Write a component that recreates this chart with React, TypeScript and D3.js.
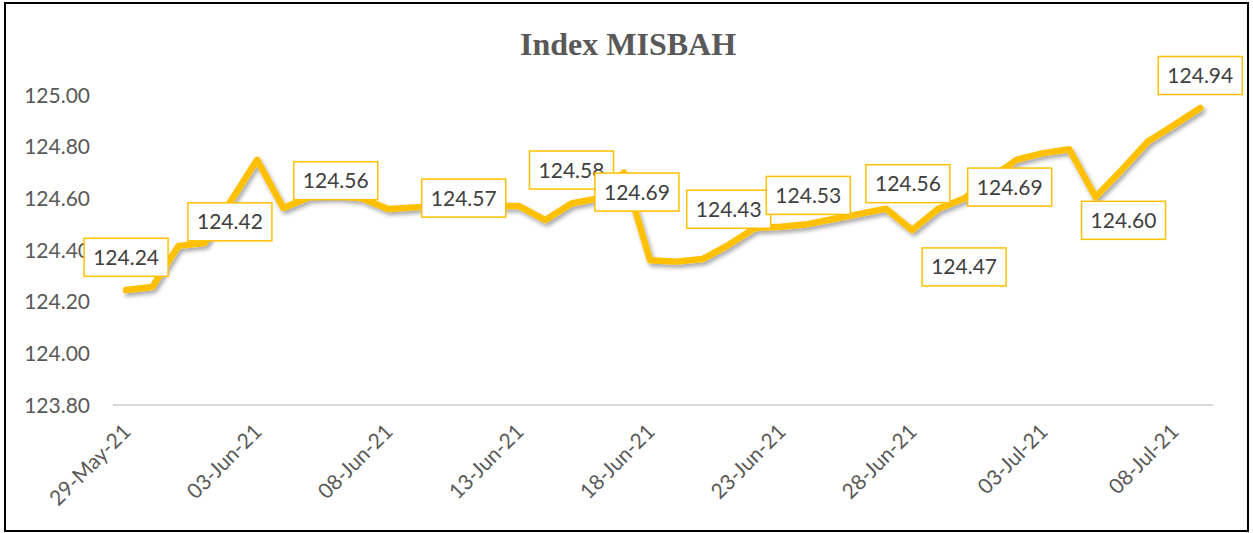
import React from "react";
import * as d3 from "d3";

// ---------- DATA ----------
const dates = [
  "2021-05-29", "2021-05-30", "2021-05-31", "2021-06-01", "2021-06-02", "2021-06-03",
  "2021-06-04", "2021-06-05", "2021-06-06", "2021-06-07", "2021-06-08", "2021-06-09",
  "2021-06-10", "2021-06-11", "2021-06-12", "2021-06-13", "2021-06-14", "2021-06-15",
  "2021-06-16", "2021-06-17", "2021-06-18", "2021-06-19", "2021-06-20", "2021-06-21",
  "2021-06-22", "2021-06-23", "2021-06-24", "2021-06-25", "2021-06-26", "2021-06-27",
  "2021-06-28", "2021-06-29", "2021-06-30", "2021-07-01", "2021-07-02", "2021-07-03",
  "2021-07-04", "2021-07-05", "2021-07-06", "2021-07-07", "2021-07-08", "2021-07-09",
];
const values = [
  124.245, 124.257, 124.416, 124.427, 124.59, 124.749,
  124.563, 124.605, 124.61, 124.60, 124.559, 124.565,
  124.57, 124.57, 124.57, 124.57, 124.516, 124.58,
  124.60, 124.70, 124.36, 124.355, 124.365, 124.42,
  124.485, 124.49, 124.50, 124.52, 124.54, 124.56,
  124.477, 124.56, 124.60, 124.68, 124.75, 124.775,
  124.79, 124.605, 124.71, 124.82, 124.884, 124.95,
];
const yTicks = [123.8, 124.0, 124.2, 124.4, 124.6, 124.8, 125.0];
const xTickDates = [
  "2021-05-29", "2021-06-03", "2021-06-08", "2021-06-13", "2021-06-18",
  "2021-06-23", "2021-06-28", "2021-07-03", "2021-07-08",
];
const labelDates = [
  "2021-05-29", "2021-06-02", "2021-06-06", "2021-06-11", "2021-06-15", "2021-06-17",
  "2021-06-21", "2021-06-24", "2021-06-27", "2021-06-28", "2021-07-01", "2021-07-05",
  "2021-07-09",
];
const labelTexts = [
  "124.24", "124.42", "124.56", "124.57", "124.58", "124.69",
  "124.43", "124.53", "124.56", "124.47", "124.69", "124.60",
  "124.94",
];
const title = "Index MISBAH";

// ---------- LAYOUT ----------
const W = 1253;
const H = 533;
const labelOffsets: [number, number][] = [
  [0, -34], [-1, -23], [0, -28], [-3, -8], [0, -33.5], [13, 17],
  [0, -33], [1, -21], [22, -25], [52, 35], [19, 12], [28, 22], [0, -35],
];
const GOLD = "#FFC000";

const parse = (s: string) => new Date(s + "T00:00:00Z");
const HALF_DAY = 12 * 3600 * 1000;

export default function App() {
  const x = d3
    .scaleUtc()
    .domain([
      new Date(parse(dates[0]).getTime() - HALF_DAY),
      new Date(parse(dates[dates.length - 1]).getTime() + HALF_DAY),
    ])
    .range([113, 1213.4]);
  const y = d3.scaleLinear().domain([123.8, 125.0]).range([405, 95]);

  const line = d3
    .line<number>()
    .x((_, i) => x(parse(dates[i])))
    .y((d) => y(d));

  const fmtX = d3.utcFormat("%d-%b-%y");
  const fmtY = d3.format(".2f");

  const boxW = 84;
  const boxH = 38;

  return (
    <svg
      width={W}
      height={H}
      style={{ position: "absolute", left: 0, top: 0, background: "#fff" }}
    >
      <defs>
        <filter id="shadow" x="-5%" y="-20%" width="110%" height="140%">
          <feDropShadow dx="2" dy="3" stdDeviation="2" floodColor="#000" floodOpacity="0.35" />
        </filter>
      </defs>
      <rect x={0} y={0} width={W} height={H} fill="#fff" />
      <rect x={5} y={3} width={1243} height={528} fill="none" stroke="#000" strokeWidth={2} />

      <text
        x={628}
        y={55}
        textAnchor="middle"
        fontFamily="'Liberation Serif', 'Times New Roman', serif"
        fontWeight="bold"
        fontSize={32}
        fill="#595959"
      >
        {title}
      </text>

      {/* y tick labels */}
      {yTicks.map((t) => (
        <text
          key={t}
          x={90}
          y={y(t)}
          dy="0.36em"
          textAnchor="end"
          fontFamily="Lato, 'Open Sans', sans-serif"
          fontSize={21}
          fill="#595959"
        >
          {fmtY(t)}
        </text>
      ))}

      {/* axis line */}
      <line
        x1={x.range()[0]}
        x2={x.range()[1]}
        y1={y(123.8)}
        y2={y(123.8)}
        stroke="#D9D9D9"
        strokeWidth={2}
      />

      {/* x tick labels */}
      {xTickDates.map((d) => {
        const px = x(parse(d)) + 6;
        const py = 433;
        return (
          <text
            key={d}
            transform={`translate(${px},${py}) rotate(-45)`}
            textAnchor="end"
            fontFamily="Lato, 'Open Sans', sans-serif"
            fontSize={21}
            fill="#595959"
          >
            {fmtX(parse(d))}
          </text>
        );
      })}

      {/* series line */}
      <path
        d={line(values) || ""}
        fill="none"
        stroke={GOLD}
        strokeWidth={6.5}
        strokeLinejoin="round"
        strokeLinecap="round"
        filter="url(#shadow)"
      />

      {/* data labels */}
      {labelTexts.map((t, i) => {
        const cx = x(parse(labelDates[i])) + labelOffsets[i][0];
        const cy = y(parseFloat(t)) + labelOffsets[i][1];
        return (
          <g key={i}>
            <rect
              x={cx - boxW / 2}
              y={cy - boxH / 2}
              width={boxW}
              height={boxH}
              fill="#fff"
              stroke={GOLD}
              strokeWidth={1.5}
            />
            <text
              x={cx}
              y={cy}
              dy="0.36em"
              textAnchor="middle"
              fontFamily="Lato, 'Open Sans', sans-serif"
              fontSize={21}
              fill="#404040"
            >
              {t}
            </text>
          </g>
        );
      })}
    </svg>
  );
}
